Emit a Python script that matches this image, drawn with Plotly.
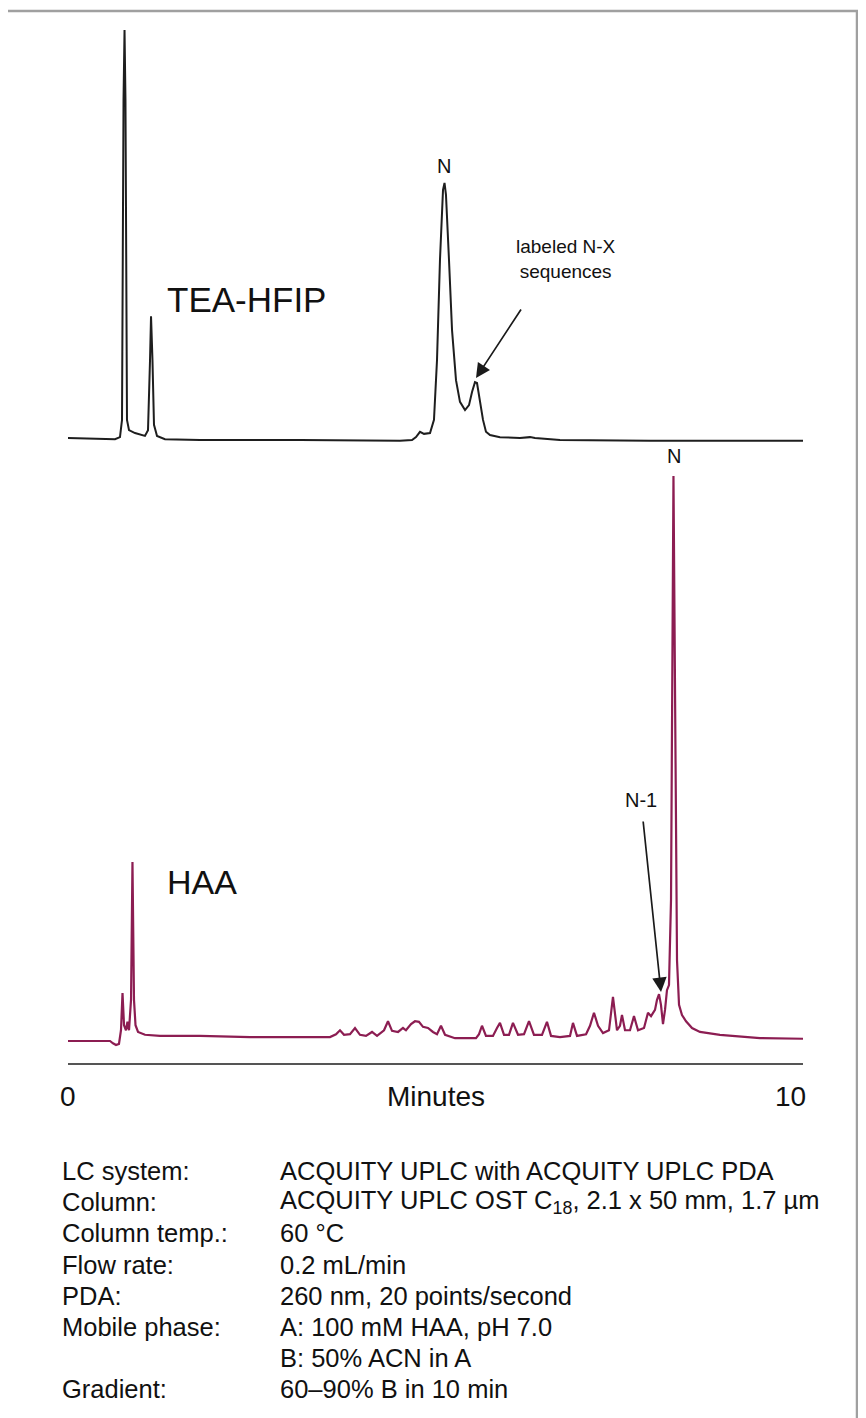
import plotly.graph_objects as go

# ---------------- data ----------------
# TEA-HFIP chromatogram: time (min) and relative response
tea_time = [0.000, 0.443, 0.651, 0.720, 0.748, 0.769, 0.783, 0.796, 0.817, 0.845,
            0.928, 1.066, 1.108, 1.136, 1.150, 1.170, 1.191, 1.233, 1.343, 1.828,
            3.213, 4.598, 4.765, 4.820, 4.875, 4.931, 5.014, 5.069, 5.111, 5.152,
            5.194, 5.215, 5.235, 5.277, 5.319, 5.374, 5.429, 5.499, 5.554, 5.596,
            5.637, 5.665, 5.706, 5.748, 5.789, 5.845, 5.983, 6.260, 6.399, 6.468,
            6.814, 8.061, 9.446, 10.180]
tea_resp = [0.005, 0.002, 0.002, 0.007, 0.049, 0.829, 1.000, 0.829, 0.049, 0.024,
            0.017, 0.010, 0.024, 0.195, 0.302, 0.195, 0.037, 0.010, 0.002, 0.000,
            0.000, -0.002, 0.000, 0.007, 0.020, 0.015, 0.017, 0.049, 0.195, 0.439,
            0.610, 0.627, 0.598, 0.439, 0.268, 0.146, 0.093, 0.073, 0.085, 0.117,
            0.141, 0.139, 0.098, 0.049, 0.020, 0.012, 0.007, 0.005, 0.007, 0.005,
            0.000, -0.002, -0.002, -0.002]

# HAA chromatogram: time (min) and relative response
haa_time = [0.000, 0.582, 0.623, 0.665, 0.706, 0.734, 0.755, 0.776, 0.803, 0.824,
            0.845, 0.873, 0.893, 0.914, 0.935, 0.970, 1.066, 1.274, 1.828, 2.521,
            3.213, 3.629, 3.712, 3.767, 3.823, 3.906, 3.975, 4.044, 4.127, 4.211,
            4.280, 4.377, 4.432, 4.488, 4.571, 4.640, 4.681, 4.751, 4.806, 4.861,
            4.917, 4.986, 5.055, 5.111, 5.166, 5.222, 5.360, 5.568, 5.651, 5.693,
            5.734, 5.789, 5.886, 5.942, 5.983, 6.039, 6.108, 6.163, 6.233, 6.316,
            6.385, 6.454, 6.565, 6.634, 6.690, 6.814, 6.953, 6.994, 7.050, 7.175,
            7.230, 7.285, 7.341, 7.410, 7.493, 7.548, 7.604, 7.645, 7.673, 7.715,
            7.784, 7.839, 7.895, 7.978, 8.033, 8.075, 8.130, 8.158, 8.186, 8.213,
            8.241, 8.269, 8.296, 8.324, 8.352, 8.386, 8.421, 8.435, 8.463, 8.504,
            8.560, 8.643, 8.753, 9.030, 9.584, 10.180]
haa_resp = [0.000, 0.000, -0.004, -0.007, -0.005, 0.019, 0.085, 0.028, 0.019, 0.034,
            0.019, 0.073, 0.317, 0.073, 0.028, 0.016, 0.011, 0.009, 0.009, 0.007,
            0.007, 0.007, 0.012, 0.019, 0.011, 0.012, 0.023, 0.011, 0.009, 0.016,
            0.009, 0.019, 0.035, 0.018, 0.016, 0.023, 0.019, 0.030, 0.035, 0.034,
            0.025, 0.023, 0.016, 0.012, 0.027, 0.011, 0.005, 0.005, 0.005, 0.012,
            0.027, 0.009, 0.009, 0.023, 0.032, 0.011, 0.011, 0.032, 0.011, 0.012,
            0.035, 0.011, 0.011, 0.034, 0.009, 0.007, 0.009, 0.032, 0.009, 0.012,
            0.027, 0.050, 0.027, 0.014, 0.019, 0.078, 0.019, 0.027, 0.046, 0.019,
            0.019, 0.044, 0.019, 0.023, 0.050, 0.044, 0.055, 0.073, 0.083, 0.064,
            0.030, 0.055, 0.090, 0.099, 0.250, 1.000, 0.427, 0.143, 0.064, 0.046,
            0.035, 0.023, 0.016, 0.011, 0.005, 0.004]

axis_ticks = [0, 10]
axis_tick_labels = ["0", "10"]
axis_title = "Minutes"

cond_labels = ["LC system:", "Column:", "Column temp.:", "Flow rate:", "PDA:",
               "Mobile phase:", "", "Gradient:"]
cond_values = ["ACQUITY UPLC with ACQUITY UPLC PDA",
               "ACQUITY UPLC OST C<sub>18</sub>, 2.1 x 50 mm, 1.7 µm",
               "60 °C", "0.2 mL/min", "260 nm, 20 points/second",
               "A: 100 mM HAA, pH 7.0", "B: 50% ACN in A", "60–90% B in 10 min"]

# ---------------- figure ----------------
BODY = 8                      # default page margin around the plot div
W, H = 866 - BODY, 1418 - BODY
ML = 68 - BODY                # plot area starts at page x = 68
MR = W - (803 - BODY)         # plot area ends at page x = 803
PW = W - ML - MR
XPPM = 72.2                   # page pixels per minute
FONT = "Liberation Sans, Arial, Helvetica, sans-serif"


def px_x(px):
    return (px - BODY - ML) / PW


def px_y(py):
    return 1 - (py - BODY) / H


fig = go.Figure()
fig.add_trace(go.Scatter(x=tea_time, y=tea_resp, mode="lines", xaxis="x", yaxis="y",
                         line=dict(color="#1e1e1e", width=2), hoverinfo="skip",
                         showlegend=False))
fig.add_trace(go.Scatter(x=haa_time, y=haa_resp, mode="lines", xaxis="x", yaxis="y2",
                         line=dict(color="#8c1d52", width=2.2), hoverinfo="skip",
                         showlegend=False))

# top panel: value 0 at page px 440, 1 at page px 30 ; domain px 20..455
top_scale = 410.0
top_dom = [px_y(455), px_y(20)]
top_rng = [-(455 - 440) / top_scale, (440 - 20) / top_scale]
# bottom panel: value 0 at page px 1041, 1 at page px 476 ; domain px 460..1063
bot_scale = 565.0
bot_dom = [px_y(1063), px_y(460)]
bot_rng = [-(1063 - 1041) / bot_scale, (1041 - 460) / bot_scale]

fig.update_layout(
    width=W, height=H,
    margin=dict(l=ML, r=MR, t=0, b=0),
    paper_bgcolor="white", plot_bgcolor="rgba(0,0,0,0)",
    font=dict(family=FONT, color="#111111"),
    xaxis=dict(range=[0, (803 - 68) / XPPM], domain=[0, 1], anchor="y2",
               showline=True, linecolor="#555555", linewidth=2,
               showgrid=False, zeroline=False, showticklabels=False, ticks=""),
    yaxis=dict(domain=top_dom, range=top_rng, visible=False, anchor="x"),
    yaxis2=dict(domain=bot_dom, range=bot_rng, visible=False, anchor="x"),
)

ann = []
axis_font = dict(size=28, family=FONT, color="#111")
for tv, tl in zip(axis_ticks, axis_tick_labels):
    ann.append(dict(x=tv, xref="x", y=px_y(1096), yref="paper", text=tl,
                    showarrow=False, font=axis_font, xanchor="center", yanchor="middle"))
ann.append(dict(x=0.5, xref="paper", y=px_y(1096), yref="paper", text=axis_title,
                showarrow=False, font=axis_font, xanchor="center", yanchor="middle"))

# chromatogram names
ann.append(dict(x=px_x(165), xref="paper", y=px_y(300), yref="paper", text="TEA-HFIP",
                showarrow=False, font=dict(size=35, family=FONT, color="#111"),
                xanchor="left", yanchor="middle"))
ann.append(dict(x=px_x(165), xref="paper", y=px_y(882), yref="paper", text="HAA",
                showarrow=False, font=dict(size=34, family=FONT, color="#111"),
                xanchor="left", yanchor="middle"))

# peak labels
lab_font = dict(size=19, family=FONT, color="#111")
n_font = dict(size=20, family=FONT, color="#111")
ann.append(dict(x=px_x(444), xref="paper", y=px_y(166), yref="paper", text="N",
                showarrow=False, font=n_font, xanchor="center", yanchor="middle"))
ann.append(dict(x=px_x(674), xref="paper", y=px_y(456), yref="paper", text="N",
                showarrow=False, font=n_font, xanchor="center", yanchor="middle"))
ann.append(dict(x=px_x(641), xref="paper", y=px_y(800), yref="paper", text="N-1",
                showarrow=False, font=n_font, xanchor="center", yanchor="middle"))
ann.append(dict(x=px_x(566), xref="paper", y=px_y(259), yref="paper",
                text="labeled N-X<br>sequences", align="center",
                showarrow=False, font=lab_font, xanchor="center", yanchor="middle"))

# arrows
ann.append(dict(x=(476 - 68) / XPPM, xref="x", y=(440 - 378) / top_scale, yref="y",
                text="", showarrow=True, arrowhead=2, arrowsize=1.7, arrowwidth=1.7,
                arrowcolor="#1a1a1a", ax=46, ay=-70, standoff=0))
ann.append(dict(x=(661 - 68) / XPPM, xref="x", y=(1041 - 992) / bot_scale, yref="y2",
                text="", showarrow=True, arrowhead=2, arrowsize=1.7, arrowwidth=1.7,
                arrowcolor="#1a1a1a", ax=-18, ay=-172, standoff=0))

# conditions table
row0, dy = 1171, 31.2
tab_font = dict(size=25.5, family=FONT, color="#111")
for i, (lab, val) in enumerate(zip(cond_labels, cond_values)):
    yy = px_y(row0 + i * dy)
    if lab:
        ann.append(dict(x=px_x(60), xref="paper", y=yy, yref="paper", text=lab,
                        showarrow=False, xanchor="left", yanchor="middle", font=tab_font))
    ann.append(dict(x=px_x(278), xref="paper", y=yy, yref="paper", text=val,
                    showarrow=False, xanchor="left", yanchor="middle", font=tab_font))

fig.update_layout(annotations=ann)

# outer frame
fig.add_shape(type="rect", xref="paper", yref="paper",
              x0=px_x(6), x1=px_x(857), y0=px_y(1440), y1=px_y(11),
              line=dict(color="#a0a0a0", width=2.5), fillcolor="rgba(0,0,0,0)",
              layer="below")

fig.write_html("out.html")
